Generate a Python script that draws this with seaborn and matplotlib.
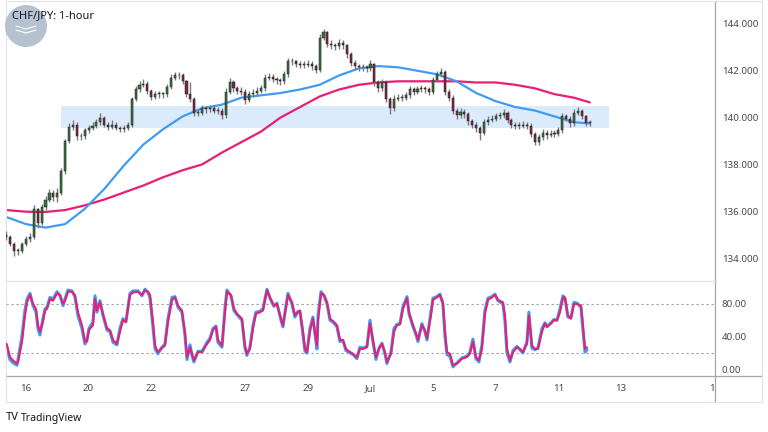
#!/usr/bin/env python3
"""
CHF/JPY 1-hour chart: candles with two moving averages, a support zone
and a stochastic oscillator panel underneath.
"""

import numpy as np
import pandas as pd
import matplotlib.pyplot as plt
import seaborn as sns
from matplotlib.patches import Ellipse, Rectangle
from matplotlib.lines import Line2D

# x axis: trading hours counted from Jun 16 00:00 (weekends removed)
day_hours = [0, 48, 96, 168, 216, 264, 312, 360, 408, 456, 528]
day_labels = ["16", "20", "22", "27", "29", "Jul", "5", "7", "11", "13", "18"]

# 3-hour candles, first one at hour -15
first_bar = -15
bar_step = 3
first_open = 135.0
closes = [
    134.9, 134.6, 134.3, 134.3, 134.6, 134.8, 134.9, 136.1, 135.5, 136.2,
    136.5, 136.8, 136.6, 136.8, 137.7, 139.0, 139.6, 139.7, 139.2, 139.2,
    139.45, 139.55, 139.65, 139.8, 140.0, 139.7, 139.6, 139.7, 139.55, 139.5,
    139.55, 139.7, 140.8, 141.2, 141.4, 141.45, 141.15, 140.9, 141.0, 141.0,
    141.0, 141.3, 141.7, 141.8, 141.8, 141.55, 141.0, 140.8, 140.2, 140.2,
    140.4, 140.35, 140.4, 140.3, 140.3, 140.1, 141.1, 141.5, 141.25, 141.15,
    141.1, 140.75, 141.0, 141.05, 141.15, 141.25, 141.7, 141.75, 141.65, 141.6,
    141.55, 141.85, 142.4, 142.4, 142.3, 142.25, 142.25, 142.3, 142.2, 142.05,
    143.4, 143.65, 143.15, 143.1, 143.05, 143.2, 143.1, 142.7, 142.35, 142.2,
    142.15, 142.15, 142.1, 142.3, 141.5, 141.25, 141.5, 140.8, 140.4, 140.8,
    140.85, 140.85, 140.95, 141.2, 141.1, 141.2, 141.25, 141.2, 141.1, 141.6,
    141.85, 141.95, 141.1, 140.85, 140.3, 140.1, 140.25, 140.15, 139.85, 139.7,
    139.55, 139.35, 139.8, 139.9, 139.95, 140.05, 140.1, 140.2, 139.9, 139.7,
    139.65, 139.65, 139.7, 139.65, 139.3, 138.95, 139.15, 139.35, 139.25, 139.3,
    139.3, 139.45, 140.05, 139.95, 139.75, 140.2, 140.3, 140.05, 139.75, 139.8,
]
highs = [
    135.15, 135.0, 134.7, 134.45, 134.7, 134.95, 135.05, 136.25, 136.15, 136.3,
    136.65, 136.95, 136.9, 137.0, 137.85, 139.1, 139.75, 139.9, 139.8, 139.35,
    139.55, 139.7, 139.8, 139.95, 140.2, 140.05, 139.8, 139.9, 139.8, 139.65,
    139.7, 139.8, 140.9, 141.35, 141.55, 141.65, 141.55, 141.2, 141.15, 141.15,
    141.1, 141.45, 141.85, 141.95, 141.95, 141.9, 141.6, 141.5, 140.9, 140.35,
    140.55, 140.5, 140.55, 140.5, 140.45, 140.4, 141.25, 141.7, 141.6, 141.35,
    141.3, 141.2, 141.15, 141.2, 141.3, 141.4, 141.85, 141.9, 141.85, 141.75,
    141.7, 142.0, 142.55, 142.55, 142.45, 142.4, 142.4, 142.45, 142.4, 142.3,
    143.55, 143.8, 143.7, 143.3, 143.2, 143.35, 143.3, 143.15, 142.8, 142.45,
    142.3, 142.3, 142.25, 142.45, 142.35, 141.6, 141.65, 141.6, 140.9, 140.95,
    141.0, 141.0, 141.1, 141.35, 141.3, 141.35, 141.4, 141.35, 141.3, 141.75,
    142.0, 142.1, 142.05, 141.2, 140.95, 140.4, 140.4, 140.35, 140.25, 139.95,
    139.8, 139.65, 139.95, 140.05, 140.1, 140.2, 140.25, 140.35, 140.3, 140.0,
    139.8, 139.8, 139.85, 139.8, 139.75, 139.4, 139.3, 139.5, 139.45, 139.45,
    139.45, 139.6, 140.2, 140.15, 140.05, 140.35, 140.45, 140.35, 140.1, 139.9,
]
lows = [
    134.75, 134.5, 134.1, 134.15, 134.2, 134.5, 134.7, 134.8, 135.3, 135.4,
    136.05, 136.4, 136.45, 136.4, 136.7, 137.6, 138.9, 139.45, 139.05, 139.05,
    139.1, 139.35, 139.45, 139.55, 139.7, 139.6, 139.45, 139.5, 139.45, 139.4,
    139.4, 139.45, 139.6, 140.7, 141.1, 141.3, 141.0, 140.75, 140.8, 140.85,
    140.85, 140.9, 141.2, 141.6, 141.65, 141.45, 140.9, 140.65, 140.05, 140.05,
    140.1, 140.2, 140.25, 140.2, 140.15, 139.95, 140.0, 141.0, 141.1, 141.0,
    140.95, 140.6, 140.65, 140.9, 140.95, 141.05, 141.15, 141.6, 141.5, 141.45,
    141.4, 141.45, 141.75, 142.25, 142.15, 142.1, 142.1, 142.15, 142.05, 141.9,
    141.95, 143.3, 143.0, 142.95, 142.9, 142.95, 142.95, 142.55, 142.2, 142.05,
    142.0, 142.0, 141.95, 142.0, 141.35, 141.1, 141.15, 140.65, 140.15, 140.3,
    140.7, 140.7, 140.75, 140.85, 140.95, 141.0, 141.1, 141.05, 140.95, 141.0,
    141.5, 141.75, 140.95, 140.7, 140.15, 139.95, 140.0, 140.0, 139.7, 139.55,
    139.4, 139.05, 139.25, 139.7, 139.8, 139.85, 139.95, 140.0, 139.75, 139.55,
    139.5, 139.5, 139.55, 139.5, 139.15, 138.85, 138.85, 139.05, 139.1, 139.15,
    139.15, 139.2, 139.35, 139.85, 139.6, 139.65, 140.1, 139.95, 139.65, 139.65,
]

# moving averages, read every 15 hours
ma_hours = [-15, 0, 15, 30, 45, 60, 75, 90, 105, 120, 135, 150, 165, 180, 195,
            210, 225, 240, 255, 270, 285, 300, 315, 330, 345, 360, 375, 390,
            405, 420, 432]
ma_fast = [135.75, 135.45, 135.3, 135.45, 136.1, 136.95, 137.95, 138.85, 139.5,
           140.05, 140.4, 140.55, 140.85, 140.95, 141.05, 141.2, 141.4, 141.8,
           142.1, 142.2, 142.15, 142.0, 141.85, 141.55, 141.05, 140.7, 140.45,
           140.3, 140.05, 139.8, 139.75]
ma_slow = [136.05, 135.98, 135.97, 136.05, 136.25, 136.5, 136.8, 137.1, 137.45,
           137.75, 138.0, 138.5, 138.95, 139.4, 140.0, 140.45, 140.9, 141.2,
           141.4, 141.5, 141.55, 141.55, 141.55, 141.55, 141.5, 141.5, 141.4,
           141.25, 141.0, 140.85, 140.65]

# support zone
zone_start, zone_end = 26.8, 446.7
zone_low, zone_high = 139.56, 140.50

# stochastic oscillator
stoch_hours = [
    -14.8, -12.3, -10, -6.9, -6.1, -3.1, -0.8, 0.8, 3.1, 5.4,
    7.7, 9.2, 10.7, 13, 14.6, 16.1, 18.4, 20.7, 23.8, 26.1,
    28.4, 29.9, 32.2, 35.2, 37.5, 39.8, 42.9, 45.2, 46.7, 48.3,
    51.3, 52.9, 54.4, 56.7, 59, 62.1, 64.4, 66.7, 69.7, 72,
    74.3, 76.6, 79.7, 82, 85.8, 88.9, 91.2, 93.5,
    95, 97.3, 98.9, 101.1, 104.2, 106.5, 108.8, 111.9, 114.2, 116.5,
    119.5, 121.8, 123.4, 125.7, 127.2, 128.7, 131.8, 134.9, 138.7, 141,
    143.3, 145.6, 147.1, 150.2, 152.5, 154, 157.1, 159.4, 161.7, 165.5,
    167.8, 169.3, 171.6, 174, 176.2, 179.3, 181.6, 184.7, 187, 190,
    192.3, 195.4, 196.9, 199.2, 200.8, 203.8, 206.1, 208.4,
    210, 212.3, 213.8, 215.3, 217.6, 219.9, 221.5, 223, 223.8, 226.1,
    228.4, 230.7, 233, 235.2, 238.3, 240.6, 242.9, 245.2, 247.5, 250.6,
    253.6, 255.9, 258.2, 261.3, 263.6, 265.9, 268.2, 270.5, 272.8, 275.1,
    276.6, 279.7, 282, 284.3, 286.6, 288.9, 292, 293.5, 296.6, 298.9,
    300.4, 303.4, 305.7, 307.3, 310.3, 311.9, 314.9, 317.2, 319.5, 321.1,
    322.6,
    324.9, 327.2, 330.3, 334.1, 337.9, 340.2, 342.5, 344.8, 347.1, 349.4,
    351.7, 354, 357.1, 359.4, 361.7, 365.5, 367, 368.6, 370.9, 373.2,
    376.2, 378.5, 380.8, 383.9, 385.4, 387.7, 390, 392.3, 395.4, 397.7,
    399.2, 402.3, 404.6, 406.9, 409.2, 411.5, 413, 415.3, 417.6, 419.9,
    422.2, 425.3, 426.8, 428.4, 429.9,
]
stoch_k = [
    28, 12, 8, 5, 12, 40, 72, 86, 93, 78, 70, 50, 42, 62, 74, 76, 88, 86, 95, 90,
    78, 86, 97, 96, 89, 66, 50, 31, 36, 50, 58, 90, 70, 84, 66, 48, 46, 33, 30, 50,
    62, 58, 93, 96, 96, 90, 98, 94,
    88, 52, 25, 19, 27, 31, 62, 88, 89, 76, 70, 42, 12, 30, 17, 9, 22, 22, 33, 38,
    50, 53, 33, 27, 75, 97, 90, 72, 67, 60, 26, 17, 27, 54, 70, 71, 74, 98, 87, 77,
    81, 60, 52, 78, 93, 80, 64, 71,
    70, 42, 22, 20, 50, 64, 42, 25, 66, 95, 90, 80, 60, 58, 52, 34, 35, 23, 21, 18,
    13, 27, 26, 28, 60, 33, 12, 26, 32, 19, 7, 21, 50, 55, 56, 77, 89, 68, 52, 42,
    34, 56, 46, 36, 70, 87, 89, 92, 80, 40, 18,
    16, 3, 8, 14, 16, 21, 37, 13, 9, 30, 72, 87, 89, 92, 84, 80, 60, 20, 9, 23,
    28, 24, 20, 34, 70, 26, 24, 26, 50, 57, 52, 57, 61, 60, 74, 90, 87, 64, 63, 82,
    81, 76, 48, 21, 24,
]
stoch_d = [
    31, 15, 11, 7, 9, 33, 66, 82, 91, 80, 74, 54, 46, 58, 72, 74, 86, 84, 93, 91,
    80, 84, 95, 95, 91, 70, 54, 34, 34, 48, 54, 86, 72, 82, 68, 50, 48, 36, 31, 46,
    60, 58, 91, 94, 95, 91, 97, 95,
    91, 58, 29, 21, 26, 29, 58, 85, 88, 78, 72, 46, 15, 27, 19, 11, 21, 21, 31, 36,
    48, 52, 36, 29, 70, 95, 91, 74, 68, 62, 29, 19, 25, 50, 68, 70, 72, 97, 88, 78,
    80, 62, 54, 74, 91, 82, 66, 70,
    72, 46, 25, 21, 46, 62, 46, 29, 60, 93, 91, 82, 62, 59, 54, 36, 36, 25, 22, 19,
    15, 25, 25, 27, 56, 36, 15, 25, 31, 21, 9, 19, 46, 54, 55, 74, 87, 70, 54, 44,
    36, 54, 48, 38, 66, 85, 88, 91, 82, 46, 21,
    19, 5, 7, 13, 15, 19, 34, 15, 11, 25, 68, 85, 88, 91, 85, 82, 66, 25, 11, 21,
    27, 25, 21, 31, 66, 29, 25, 25, 46, 56, 52, 56, 60, 60, 70, 88, 88, 66, 62, 80,
    80, 78, 54, 25, 27,
]
price_ticks = [134, 136, 138, 140, 142, 144]
stoch_ticks = [0, 40, 80]
stoch_levels = [20, 80]

UP = "#357340"
DOWN = "#84264b"
WICK = "#7a7a7a"
BLUE = "#3f9cf2"
PINK = "#e91e74"
GRID = "#e0e3eb"
AXIS = "#a3a6af"
TEXT = "#4a4a4a"

sns.set_theme(style="white")
plt.rcParams["font.family"] = ["Noto Sans", "DejaVu Sans"]

W, H = 768, 432
fig = plt.figure(figsize=(W / 100, H / 100), dpi=100)
fig.patch.set_facecolor("white")

ax = fig.add_axes([6 / W, 1 - 281 / H, 709 / W, 280 / H])
ax2 = fig.add_axes([6 / W, 1 - 376 / H, 709 / W, 95 / H], sharex=ax)

# candles
bars = pd.DataFrame({
    "hour": np.arange(len(closes)) * bar_step + first_bar,
    "open": [first_open] + closes[:-1],
    "close": closes,
    "high": highs,
    "low": lows,
})
rising = bars["close"] >= bars["open"]
body_low = bars[["open", "close"]].min(axis=1)
body_h = (bars["close"] - bars["open"]).abs().clip(lower=0.03)

ax.add_patch(Rectangle((zone_start, zone_low), zone_end - zone_start,
                       zone_high - zone_low, facecolor="#dcebfc",
                       edgecolor="none", zorder=0))
sns.lineplot(x=ma_hours, y=ma_slow, ax=ax, color=PINK, linewidth=1.6, zorder=2)
sns.lineplot(x=ma_hours, y=ma_fast, ax=ax, color=BLUE, linewidth=1.6, zorder=2)
ax.vlines(bars["hour"], bars["low"], bars["high"], color=WICK, linewidth=1.0, zorder=3)
ax.bar(bars["hour"], body_h, bottom=body_low, width=1.6,
       color=np.where(rising, UP, DOWN), edgecolor="#1e1e1e", linewidth=0.35, zorder=4)

ax.set_xlim(-15.3, 528)
ax.set_ylim(133.02, 144.98)
ax.yaxis.tick_right()
ax.set_yticks(price_ticks)
ax.set_yticklabels([f"{v:.3f}" for v in price_ticks])
ax.tick_params(axis="y", length=0, pad=5, labelsize=7, labelcolor=TEXT)
ax.tick_params(axis="x", length=0, labelbottom=False)
ax.set_xlabel("")
ax.set_ylabel("")

# stochastic panel
for lvl in stoch_levels:
    ax2.axhline(lvl, color="#9e9e9e", linewidth=0.8, linestyle=(0, (2, 2.5)), zorder=1)
sns.lineplot(x=stoch_hours, y=stoch_k, ax=ax2, color=BLUE, linewidth=2.2, sort=False, zorder=2)
sns.lineplot(x=stoch_hours, y=stoch_d, ax=ax2, color=PINK, linewidth=1.5, sort=False, zorder=3)
ax2.set_ylim(-8.2, 108.1)
ax2.yaxis.tick_right()
ax2.set_yticks(stoch_ticks)
ax2.set_yticklabels([f"{v:.2f}" for v in stoch_ticks])
ax2.set_xticks(day_hours)
ax2.set_xticklabels(day_labels)
ax2.tick_params(axis="y", length=0, pad=5, labelsize=7, labelcolor=TEXT)
ax2.tick_params(axis="x", length=0, pad=6, labelsize=7, labelcolor=TEXT)
ax2.set_xlabel("")
ax2.set_ylabel("")

for a in (ax, ax2):
    for side in ("left", "top", "bottom"):
        a.spines[side].set_color(GRID)
        a.spines[side].set_linewidth(0.8)
    a.spines["right"].set_color(AXIS)
    a.spines["right"].set_linewidth(0.9)
ax2.spines["bottom"].set_color(AXIS)
ax2.spines["bottom"].set_linewidth(0.9)

# the last date label is cut by the price scale
clip = Rectangle((0, 0), 715 / W, 1, transform=fig.transFigure)
ax2.get_xticklabels()[-1].set_clip_path(clip)

# frame around the whole chart
def fig_line(x0, y0, x1, y1, color):
    fig.add_artist(Line2D([x0 / W, x1 / W], [1 - y0 / H, 1 - y1 / H],
                          color=color, linewidth=0.9))

fig_line(715, 376, 715, 402, AXIS)
fig_line(715, 376, 762, 376, AXIS)
fig_line(6, 402, 762, 402, GRID)
fig_line(762, 1, 762, 402, GRID)
fig_line(715, 1, 762, 1, GRID)
fig_line(6, 376, 6, 402, GRID)

# watermark badge and title
fig.add_artist(Ellipse((26 / W, 1 - 26 / H), 42 / W, 42 / H,
                       facecolor="#aebccb", edgecolor="none", alpha=0.9))
fig.add_artist(Line2D([16 / W, 26 / W, 36 / W], [1 - 30 / H, 1 - 33 / H, 1 - 30 / H],
                      color="white", linewidth=0.8))
fig.add_artist(Line2D([16 / W, 26 / W, 36 / W], [1 - 26 / H, 1 - 29 / H, 1 - 26 / H],
                      color="white", linewidth=0.8))
fig.text(12 / W, 1 - 16 / H, "CHF/JPY: 1-hour", fontsize=8, color="#131722",
         va="center", ha="left")

# TradingView mark
fig.text(6 / W, 1 - 418 / H, "TV", fontsize=8, fontweight="bold",
         color="#131722", va="center", ha="left")
fig.text(21 / W, 1 - 418 / H, "TradingView", fontsize=7.5, color="#131722",
         va="center", ha="left")

fig.savefig("out.png", dpi=100, facecolor="white")
